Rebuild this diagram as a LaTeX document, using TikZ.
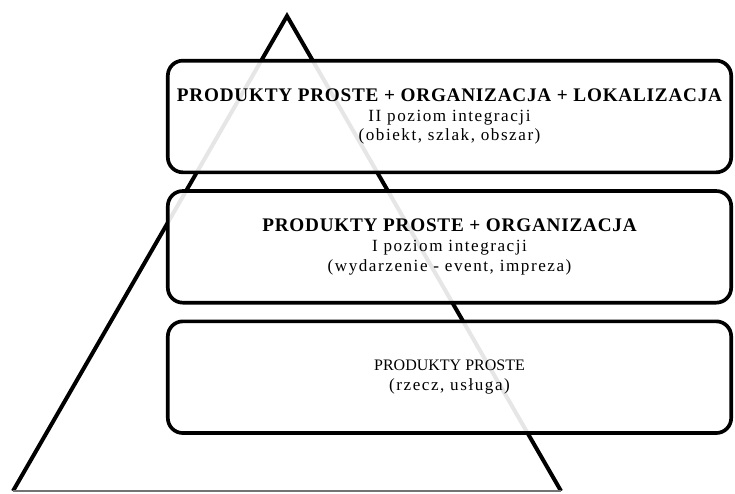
\documentclass[tikz,border=0pt]{standalone}
\usepackage{fontspec}
\setmainfont{Liberation Serif}
\newfontfamily\widefont[LetterSpace=9]{Liberation Serif}
\newfontfamily\headfont[LetterSpace=4]{Liberation Serif}
\usepackage{tikz}
\usetikzlibrary{positioning,calc}

\newcommand{\headline}[1]{{\headfont\fontsize{16.4}{17}\selectfont\bfseries #1}}
\newcommand{\subline}[1]{{\widefont #1}}
\newcommand{\plainline}[1]{{\fontsize{13.66}{16.8}\selectfont #1}}

\tikzstyle{level}=[draw=black, line width=0.11cm, rounded corners=0.45cm,
  fill=white, fill opacity=0.9, text opacity=1, align=center,
  minimum width=16.9cm, minimum height=3.35cm,
  font=\fontsize{14.6}{16.8}\selectfont]

\begin{document}
\begin{tikzpicture}[x=0.03cm,y=-0.03cm]
  \useasboundingbox (0,0) rectangle (735,493);

  % pyramid behind the levels
  \coordinate (top) at (287,16);
  \coordinate (bl) at (13,491);
  \coordinate (br) at (561,491);
  \draw[line width=0.12cm, line join=miter] (bl) -- (top) -- (br);
  \draw[line width=0.04cm, black!55] (bl) -- (br);

  \node[level] (poziom2) at (449.5,116.5)
    {\headline{PRODUKTY PROSTE + ORGANIZACJA + LOKALIZACJA}\\
     \subline{II poziom integracji}\\\subline{(obiekt, szlak, obszar)}};
  \node[level, below=0.45cm of poziom2] (poziom1)
    {\headline{PRODUKTY PROSTE + ORGANIZACJA}\\
     \subline{I poziom integracji}\\\subline{(wydarzenie - event, impreza)}};
  \node[level, below=0.45cm of poziom1] (proste)
    {\plainline{PRODUKTY PROSTE}\\\subline{(rzecz, usługa)}};
\end{tikzpicture}
\end{document}
